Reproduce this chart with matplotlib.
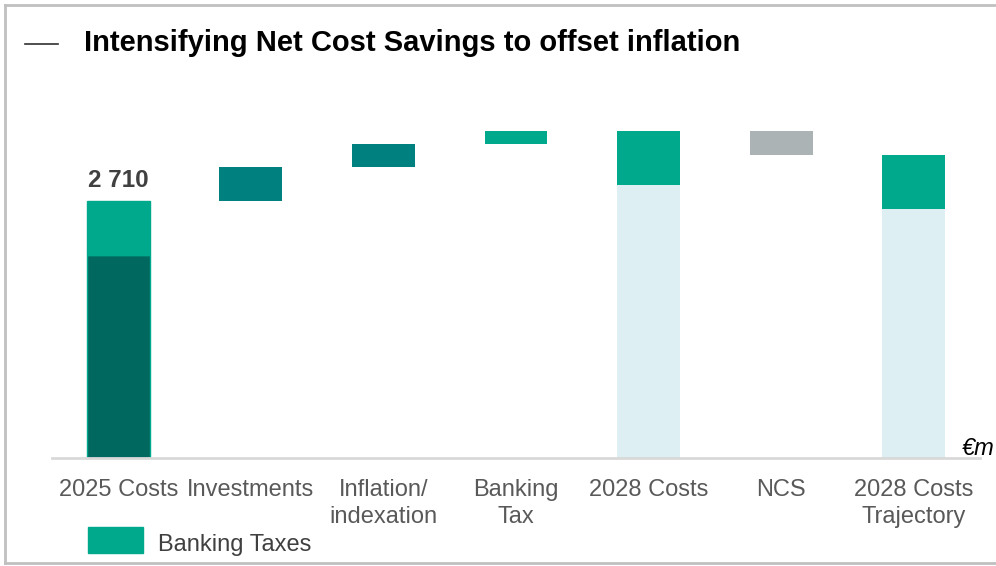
import matplotlib.pyplot as plt
from matplotlib.patches import Rectangle
from matplotlib.lines import Line2D

plt.rcParams['font.family'] = ['Liberation Sans', 'DejaVu Sans']

# ---------------------------------------------------
categories = ["2025 Costs", "Investments", "Inflation/\nindexation", "Banking\nTax",
              "2028 Costs", "NCS", "2028 Costs\nTrajectory"]
core_2025 = 2140
banking_taxes = 570
total_2025 = 2710
steps = [360, 240, 137, -250]          # Investments, Inflation, Banking Tax, NCS
step_idx = [1, 2, 3, 5]
step_colors = ["#00807F", "#00807F", "#00A98C", "#ABB3B5"]
# ---------------------------------------------------

green = "#00A98C"
dark = "#00685E"
light = "#DDEFF2"
w = 0.475

fig = plt.figure(figsize=(9.96, 5.66), dpi=100)
H = 566
ax = fig.add_axes([52 / 996, (H - 458) / H, 928 / 996, (458 - 100) / H])

# 2025 costs
ax.bar(0, core_2025, w, color=dark, edgecolor=green, linewidth=1)
ax.bar(0, banking_taxes, w, bottom=core_2025, color=green, edgecolor=green, linewidth=1)
ax.text(0, total_2025 + 90, f"{total_2025:,}".replace(",", " "), ha="center", va="bottom",
        fontsize=17.5, fontweight="bold", color="#404040")

# floating steps
level = total_2025
for i, s, c in zip(step_idx, steps[:3], step_colors[:3]):
    ax.bar(i, s, w, bottom=level, color=c)
    level += s
total_2028 = level
ax.bar(4, total_2028 - banking_taxes, w, color=light)
ax.bar(4, banking_taxes, w, bottom=total_2028 - banking_taxes, color=green)

ax.bar(5, steps[3], w, bottom=total_2028, color=step_colors[3])
traj = total_2028 + steps[3]
ax.bar(6, traj - banking_taxes, w, color=light)
ax.bar(6, banking_taxes, w, bottom=traj - banking_taxes, color=green)

ax.set_xlim(-0.5, 6.5)
ax.set_ylim(0, 3775)
ax.set_xticks(range(len(categories)))
ax.set_xticklabels(categories, fontsize=17, color="#595959", linespacing=1.3)
ax.tick_params(axis="x", length=0, pad=15)
ax.set_yticks([])
for s in ["top", "right", "left"]:
    ax.spines[s].set_visible(False)
ax.spines["bottom"].set_color("#D9D9D9")
ax.spines["bottom"].set_linewidth(2)

fig.text(962 / 996, 1 - 460 / H, "€m", ha="left", va="bottom",
         fontsize=17, style="italic", color="black")

# title and frame
fig.text(84 / 996, 1 - 43 / H, "Intensifying Net Cost Savings to offset inflation",
         fontsize=21, fontweight="bold", va="center", ha="left")
fig.add_artist(Line2D([25 / 996, 58 / 996], [1 - 44 / H, 1 - 44 / H], color="#303030", lw=1.2))
fig.add_artist(Line2D([5 / 996, 5 / 996], [1 - 5 / H, 1 - 563 / H], color="#C0C0C0", lw=2))
fig.add_artist(Line2D([5 / 996, 1], [1 - 5 / H, 1 - 5 / H], color="#C0C0C0", lw=2))
fig.add_artist(Line2D([5 / 996, 1], [1 - 563 / H, 1 - 563 / H], color="#C0C0C0", lw=2))

# legend
fig.add_artist(Rectangle((88 / 996, 1 - 553 / H), 55 / 996, 26 / H, color=green,
                         transform=fig.transFigure))
fig.text(158 / 996, 1 - 545 / H, "Banking Taxes", fontsize=17, color="#404040", va="center")

fig.savefig("out.png", dpi=100)
